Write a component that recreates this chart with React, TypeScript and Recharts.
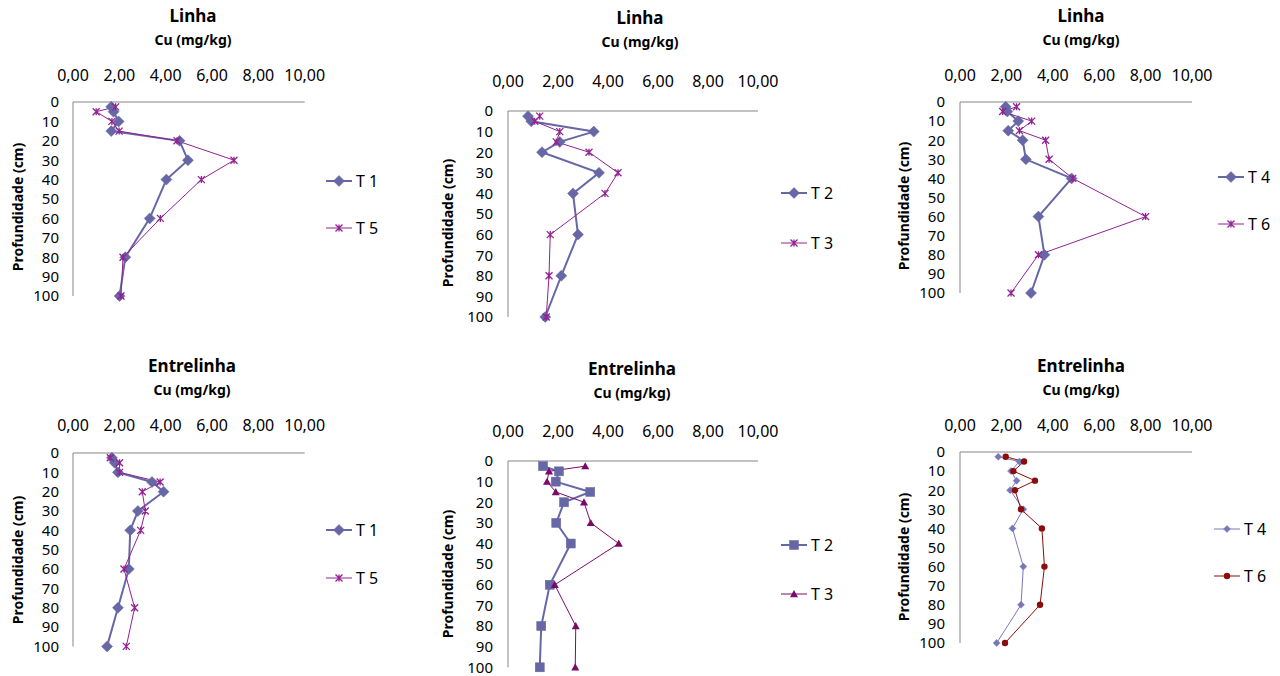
import React from "react";
import { LineChart, Line, XAxis, YAxis } from "recharts";

// profundidades (cm) e ticks
const depths = [2.5, 5, 10, 15, 20, 30, 40, 60, 80, 100];
const cuTicks = [0, 2, 4, 6, 8, 10];
const depthTicks = [0, 10, 20, 30, 40, 50, 60, 70, 80, 90, 100];

// Linha - Cu (mg/kg)
const linhaT1 = [1.65, 1.75, 1.97, 1.65, 4.6, 4.96, 4.03, 3.31, 2.26, 2.01];
const linhaT5 = [1.84, 1.0, 1.68, 1.99, 4.49, 6.95, 5.54, 3.77, 2.16, 2.07];
const linhaT2 = [0.8, 0.93, 3.43, 2.07, 1.36, 3.64, 2.6, 2.8, 2.13, 1.49];
const linhaT3 = [1.27, 1.07, 2.07, 1.93, 3.24, 4.4, 3.88, 1.69, 1.64, 1.53];
const linhaT4 = [1.97, 2.04, 2.51, 2.08, 2.7, 2.84, 4.81, 3.38, 3.64, 3.06];
const linhaT6 = [2.44, 1.84, 3.09, 2.56, 3.69, 3.84, 4.86, 8.0, 3.38, 2.2];

// Entrelinha - Cu (mg/kg)
const entreT1 = [1.68, 1.8, 1.94, 3.41, 3.91, 2.8, 2.47, 2.41, 1.94, 1.47];
const entreT5 = [1.61, 2.01, 2.01, 3.76, 2.99, 3.12, 2.92, 2.2, 2.66, 2.3];
const entreT2 = [1.4, 2.04, 1.91, 3.29, 2.24, 1.93, 2.51, 1.67, 1.33, 1.27];
const entreT3 = [3.09, 1.64, 1.56, 1.91, 3.04, 3.31, 4.43, 1.87, 2.71, 2.69];
const entreT4 = [1.65, 2.56, 2.2, 2.44, 2.16, 2.73, 2.26, 2.73, 2.63, 1.58];
const entreT6 = [1.97, 2.76, 2.3, 3.23, 2.37, 2.63, 3.53, 3.64, 3.45, 1.94];

const BLUE = "#6767A6";
const PURPLE = "#922292";

type Kind = "diamond" | "star" | "square" | "triangle" | "circle";

type Serie = {
  name: string;
  values: number[];
  color: string;
  width: number;
  kind: Kind;
  size: number;
  legendY: number;
};

type Panel = {
  title: string;
  titleX: number;
  titleY: number;
  plot: { x: number; y: number; w: number; h: number };
  xGap: number;
  yGap: number;
  labelX: number;
  labelY: number;
  legendX: number;
  series: Serie[];
};

const panels: Panel[] = [
  {
    title: "Linha", titleX: 193, titleY: 15,
    plot: { x: 73.3, y: 101.7, w: 231.7, h: 194 },
    xGap: 15, yGap: 8, labelX: 17.5, labelY: 207, legendX: 326,
    series: [
      { name: "T 1", values: linhaT1, color: BLUE, width: 2, kind: "diamond", size: 5.5, legendY: 181 },
      { name: "T 5", values: linhaT5, color: PURPLE, width: 1, kind: "star", size: 3.5, legendY: 228 },
    ],
  },
  {
    title: "Linha", titleX: 640, titleY: 17,
    plot: { x: 508.3, y: 110.7, w: 250, h: 206 },
    xGap: 18, yGap: 9, labelX: 448, labelY: 223, legendX: 781,
    series: [
      { name: "T 2", values: linhaT2, color: BLUE, width: 2, kind: "diamond", size: 5.5, legendY: 193 },
      { name: "T 3", values: linhaT3, color: PURPLE, width: 1, kind: "star", size: 3.5, legendY: 243 },
    ],
  },
  {
    title: "Linha", titleX: 1081, titleY: 15,
    plot: { x: 960, y: 101.7, w: 232, h: 191 },
    xGap: 15, yGap: 9, labelX: 904, labelY: 206, legendX: 1218,
    series: [
      { name: "T 4", values: linhaT4, color: BLUE, width: 2, kind: "diamond", size: 5.5, legendY: 177 },
      { name: "T 6", values: linhaT6, color: PURPLE, width: 1, kind: "star", size: 3.5, legendY: 224 },
    ],
  },
  {
    title: "Entrelinha", titleX: 192, titleY: 365,
    plot: { x: 73.3, y: 453.3, w: 231.7, h: 193.4 },
    xGap: 15.5, yGap: 8, labelX: 17.5, labelY: 560, legendX: 326,
    series: [
      { name: "T 1", values: entreT1, color: BLUE, width: 2, kind: "diamond", size: 5.5, legendY: 530 },
      { name: "T 5", values: entreT5, color: PURPLE, width: 1, kind: "star", size: 3.5, legendY: 578 },
    ],
  },
  {
    title: "Entrelinha", titleX: 632, titleY: 368,
    plot: { x: 508.3, y: 461, w: 250, h: 206.3 },
    xGap: 18, yGap: 9, labelX: 448, labelY: 574, legendX: 781,
    series: [
      { name: "T 2", values: entreT2, color: BLUE, width: 2, kind: "square", size: 4.5, legendY: 545 },
      { name: "T 3", values: entreT3, color: "#7A0A6A", width: 1, kind: "triangle", size: 4, legendY: 594 },
    ],
  },
  {
    title: "Entrelinha", titleX: 1081, titleY: 365,
    plot: { x: 960, y: 452.3, w: 232, h: 191 },
    xGap: 15.5, yGap: 9, labelX: 904, labelY: 557, legendX: 1214,
    series: [
      { name: "T 4", values: entreT4, color: "#7878B8", width: 1, kind: "diamond", size: 3.5, legendY: 529 },
      { name: "T 6", values: entreT6, color: "#8B0C0C", width: 1, kind: "circle", size: 3.2, legendY: 576 },
    ],
  },
];

const fmtCu = (v: number) => v.toFixed(2).replace(".", ",");

// marcador no estilo do Excel
function Marker({ kind, cx, cy, color, s }: { kind: Kind; cx: number; cy: number; color: string; s: number }) {
  switch (kind) {
    case "diamond":
      return <path d={`M${cx},${cy - s}L${cx + s},${cy}L${cx},${cy + s}L${cx - s},${cy}Z`} fill={color} stroke={color} strokeWidth={0.5} />;
    case "star":
      return (
        <path
          d={`M${cx - s},${cy - s}L${cx + s},${cy + s}M${cx - s},${cy + s}L${cx + s},${cy - s}M${cx},${cy - s}L${cx},${cy + s}`}
          stroke={color} strokeWidth={1.3} fill="none"
        />
      );
    case "square":
      return <rect x={cx - s} y={cy - s} width={s * 2} height={s * 2} fill={color} stroke={color} strokeWidth={0.5} />;
    case "triangle":
      return <path d={`M${cx},${cy - s}L${cx + s},${cy + s * 0.8}L${cx - s},${cy + s * 0.8}Z`} fill={color} />;
    default:
      return <circle cx={cx} cy={cy} r={s} fill={color} />;
  }
}

const ML = 50, MT = 40, MR = 32, MB = 10;

function DepthChart({ p }: { p: Panel }) {
  const [a, b] = p.series;
  const data = depths.map((d, i) => ({ depth: d, a: a.values[i], b: b.values[i] }));
  const keys = ["a", "b"];

  return (
    <>
      <div style={{ position: "absolute", left: p.titleX, top: p.titleY, transform: "translate(-50%,-50%)", fontWeight: 700, fontSize: 17, whiteSpace: "nowrap", lineHeight: 1 }}>
        {p.title}
      </div>
      <div style={{ position: "absolute", left: p.titleX, top: p.titleY + 25, transform: "translate(-50%,-50%)", fontWeight: 700, fontSize: 14, whiteSpace: "nowrap", lineHeight: 1 }}>
        Cu (mg/kg)
      </div>
      <div style={{ position: "absolute", left: p.labelX, top: p.labelY, transform: "translate(-50%,-50%) rotate(-90deg)", fontWeight: 700, fontSize: 14, whiteSpace: "nowrap", lineHeight: 1 }}>
        Profundidade (cm)
      </div>

      <div style={{ position: "absolute", left: p.plot.x - ML, top: p.plot.y - MT }}>
        <LineChart
          layout="vertical"
          width={p.plot.w + ML + MR}
          height={p.plot.h + MT + MB}
          data={data}
          margin={{ top: 0, right: MR, bottom: MB, left: 0 }}
        >
          <XAxis
            type="number"
            orientation="top"
            domain={[0, 10]}
            ticks={cuTicks}
            tickFormatter={fmtCu}
            height={MT}
            tickLine={false}
            tickSize={6}
            tickMargin={p.xGap}
            axisLine={{ stroke: "#868686" }}
            tick={{ fill: "#000", fontSize: 16 }}
            interval={0}
          />
          <YAxis
            type="number"
            dataKey="depth"
            domain={[0, 100]}
            ticks={depthTicks}
            width={ML}
            tickLine={false}
            tickSize={6}
            tickMargin={p.yGap}
            axisLine={{ stroke: "#868686" }}
            tick={{ fill: "#000", fontSize: 15 }}
            interval={0}
          />
          {p.series.map((s, i) => (
            <Line
              key={s.name}
              dataKey={keys[i]}
              name={s.name}
              stroke={s.color}
              strokeWidth={s.width}
              isAnimationActive={false}
              activeDot={false}
              dot={(props: any) => (
                <Marker key={`${s.name}-${props.index}`} kind={s.kind} cx={props.cx} cy={props.cy} color={s.color} s={s.size} />
              )}
            />
          ))}
        </LineChart>
      </div>

      {/* legenda */}
      {p.series.map((s) => (
        <div key={s.name} style={{ position: "absolute", left: p.legendX, top: s.legendY - 8, height: 16, display: "flex", alignItems: "center", whiteSpace: "nowrap" }}>
          <svg width={26} height={16}>
            <line x1={0} y1={8} x2={26} y2={8} stroke={s.color} strokeWidth={s.width} />
            <Marker kind={s.kind} cx={13} cy={8} color={s.color} s={s.size} />
          </svg>
          <span style={{ marginLeft: 4, fontSize: 16, lineHeight: 1 }}>{s.name}</span>
        </div>
      ))}
    </>
  );
}

export default function App() {
  return (
    <div style={{ position: "absolute", left: 0, top: 0, width: 1280, height: 676, background: "#fff", fontFamily: "'Noto Sans', sans-serif", color: "#000" }}>
      {panels.map((p, i) => (
        <DepthChart key={i} p={p} />
      ))}
    </div>
  );
}
